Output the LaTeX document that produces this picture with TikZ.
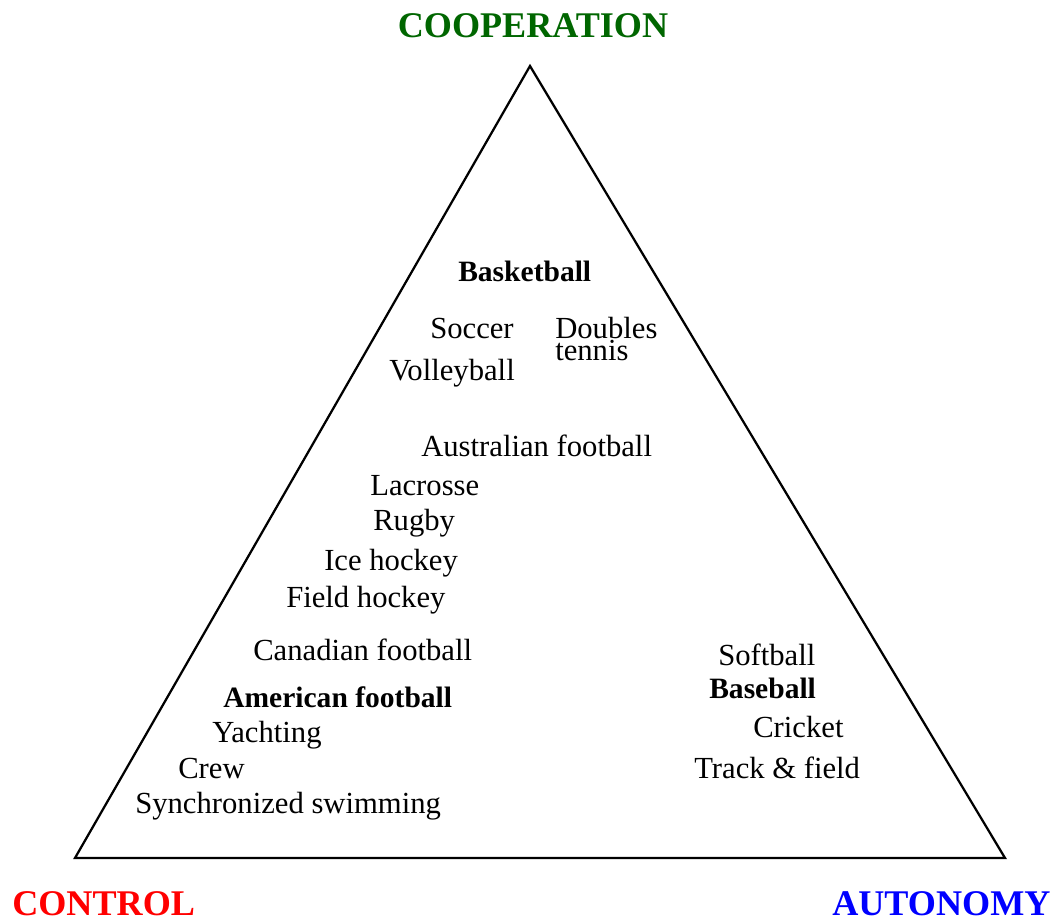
\documentclass[tikz,border=0pt]{standalone}
\usepackage{fontspec}
\setmainfont{Liberation Serif}
\usepackage{tikz}
\usetikzlibrary{positioning}

\definecolor{coopgreen}{RGB}{0,102,0}

\begin{document}
\begin{tikzpicture}[x=0.025cm, y=-0.025cm,
    sport/.style={font=\fontsize{21.8}{14.5}\selectfont, anchor=base west, inner sep=0pt},
    keysport/.style={sport, font=\fontsize{21}{14.5}\selectfont\bfseries},
    pole/.style={font=\fontsize{25.7}{30}\selectfont\bfseries, anchor=base west, inner sep=0pt}]
    \useasboundingbox (0,0) rectangle (1058,921);

    % the triangle
    \coordinate (apex) at (530,66);
    \coordinate (left) at (75,858);
    \coordinate (right) at (1005,858);
    \draw[line width=1.6pt, line join=miter] (apex) -- (left) -- (right) -- cycle;

    % the three corners
    \node[pole, anchor=base, text=coopgreen] (coop) at (533,37) {COOPERATION};
    \node[pole, text=red] (control) at (12,915) {CONTROL};
    \node[pole, text=blue] (autonomy) at (832,915) {AUTONOMY};

    % sports
    \node[keysport] (basketball) at (458,281) {Basketball};
    \node[sport] (soccer) at (430,338) {Soccer};
    \node[sport, align=left] (doubles) at (555,360) {Doubles\\tennis};
    \node[sport] (volleyball) at (389,380) {Volleyball};
    \node[sport] (aussie) at (421,456) {Australian football};
    \node[sport] (lacrosse) at (370,495) {Lacrosse};
    \node[sport] (rugby) at (373,530) {Rugby};
    \node[sport] (icehockey) at (324,570) {Ice hockey};
    \node[sport] (fieldhockey) at (286,607) {Field hockey};
    \node[sport] (canadian) at (253,660) {Canadian football};
    \node[keysport] (american) at (223,707) {American football};
    \node[sport] (yachting) at (212,742) {Yachting};
    \node[sport] (crew) at (178,778) {Crew};
    \node[sport] (synchro) at (135,813) {Synchronized swimming};
    \node[sport] (softball) at (718,665) {Softball};
    \node[keysport] (baseball) at (709,698) {Baseball};
    \node[sport] (cricket) at (753,737) {Cricket};
    \node[sport] (track) at (694,778) {Track \& field};
\end{tikzpicture}
\end{document}
